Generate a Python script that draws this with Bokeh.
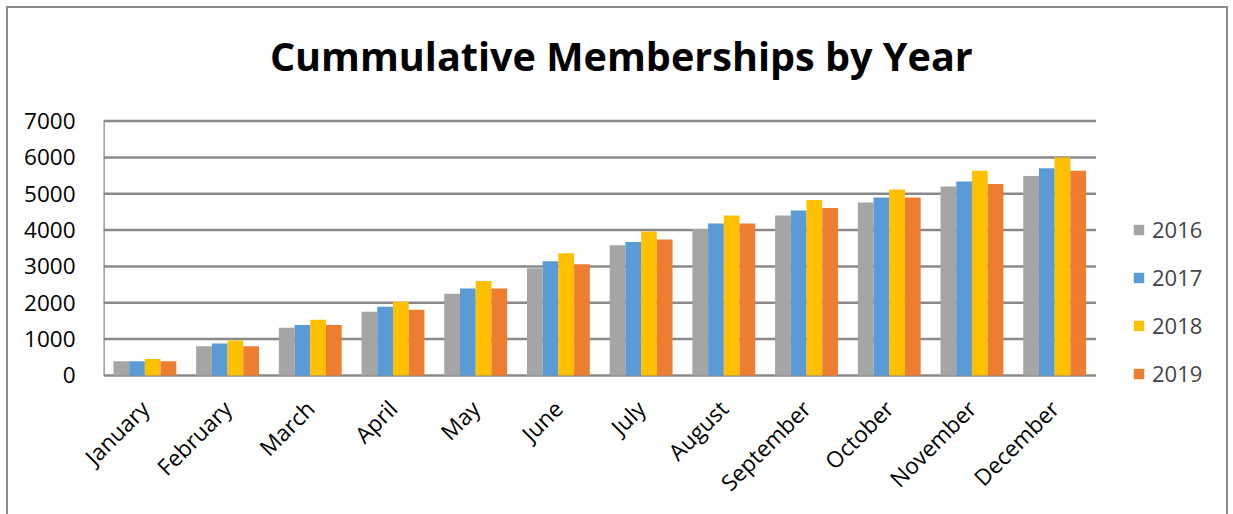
from math import pi
from bokeh.plotting import figure
from bokeh.models import (ColumnDataSource, Range1d, FixedTicker, Legend, LegendItem, Label)
from bokeh.transform import dodge
from bokeh.embed import file_html
from bokeh.resources import INLINE

months = ["January", "February", "March", "April", "May", "June", "July",
          "August", "September", "October", "November", "December"]
years = ["2016", "2017", "2018", "2019"]
v2016 = [390, 800, 1310, 1750, 2250, 2950, 3580, 4030, 4400, 4760, 5200, 5490]
v2017 = [390, 880, 1390, 1890, 2390, 3140, 3670, 4180, 4540, 4900, 5340, 5700]
v2018 = [450, 960, 1530, 2030, 2600, 3360, 3960, 4400, 4830, 5120, 5630, 6000]
v2019 = [390, 800, 1390, 1810, 2390, 3060, 3740, 4180, 4610, 4900, 5270, 5630]
y_ticks = [0, 1000, 2000, 3000, 4000, 5000, 6000, 7000]
title_text = "Cummulative Memberships by Year"

colors = ["#A5A5A5", "#5B9BD5", "#FFC000", "#ED7D31"]
offsets = [-0.285, -0.095, 0.095, 0.285]
GRID = "#898989"
FONT = "Open Sans"

n = len(months)
pos = list(range(n))
source = ColumnDataSource(data=dict(pos=pos, y2016=v2016, y2017=v2017,
                                    y2018=v2018, y2019=v2019))

# the frame covers the title area (top), the legend area (right) and a strip
# below zero, so that title and legend can be placed inside it
p = figure(x_range=Range1d(-0.5, 13.126), y_range=Range1d(-581, 10099),
           width=1222, height=508, output_backend="svg",
           toolbar_location=None,
           min_border_left=95, min_border_right=0,
           min_border_top=0, min_border_bottom=120)
p.styles = {"border-top": "2px solid #8C8C8C", "border-left": "2px solid #8C8C8C",
            "border-right": "2px solid #8C8C8C", "margin": "6px 0 0 6px"}

# horizontal gridlines (incl. the category axis line at zero) and value axis line
p.segment(x0=-0.5, x1=n - 0.5, y0=y_ticks, y1=y_ticks,
          line_color=GRID, line_width=2.5)
p.segment(x0=-0.5, x1=-0.5, y0=y_ticks[0], y1=y_ticks[-1],
          line_color=GRID, line_width=2.5)

renderers = []
for yr, col, off in zip(years, colors, offsets):
    r = p.vbar(x=dodge("pos", off), top="y" + yr, width=0.19,
               source=source, fill_color=col, line_color=None)
    renderers.append(r)

title = Label(x=5.761, y=8797, text=title_text, text_align="center",
              text_baseline="alphabetic", text_font=FONT, text_font_size="39.6px",
              text_font_style="bold", text_color="#000000")
p.add_layout(title)

p.outline_line_color = None
p.xgrid.visible = False
p.ygrid.visible = False

p.yaxis.ticker = FixedTicker(ticks=y_ticks)
p.yaxis.axis_line_color = None
p.yaxis.major_tick_line_color = None
p.yaxis.minor_tick_line_color = None
p.yaxis.major_tick_out = 0
p.yaxis.major_tick_in = 0
p.yaxis.major_label_standoff = 28
p.yaxis.major_label_text_font = FONT
p.yaxis.major_label_text_font_size = "22.5px"
p.yaxis.major_label_text_color = "#000000"

p.xaxis.ticker = FixedTicker(ticks=pos)
p.xaxis.major_label_overrides = {i: m for i, m in zip(pos, months)}
p.xaxis.axis_line_color = None
p.xaxis.major_tick_line_color = None
p.xaxis.minor_tick_line_color = None
p.xaxis.major_tick_out = 0
p.xaxis.major_tick_in = 0
p.xaxis.major_label_orientation = pi / 4
p.xaxis.major_label_standoff = 8
p.xaxis.major_label_text_font = FONT
p.xaxis.major_label_text_font_size = "22.5px"
p.xaxis.major_label_text_color = "#000000"

legend = Legend(items=[LegendItem(label=yr, renderers=[r]) for yr, r in zip(years, renderers)],
                location=(1029, 8), padding=0, margin=0, spacing=18,
                glyph_width=13, glyph_height=13, label_standoff=7, label_height=26,
                label_text_font=FONT, label_text_font_size="22px",
                border_line_color=None, background_fill_alpha=0)
p.add_layout(legend)

open("out.html", "w").write(file_html(p, INLINE))
